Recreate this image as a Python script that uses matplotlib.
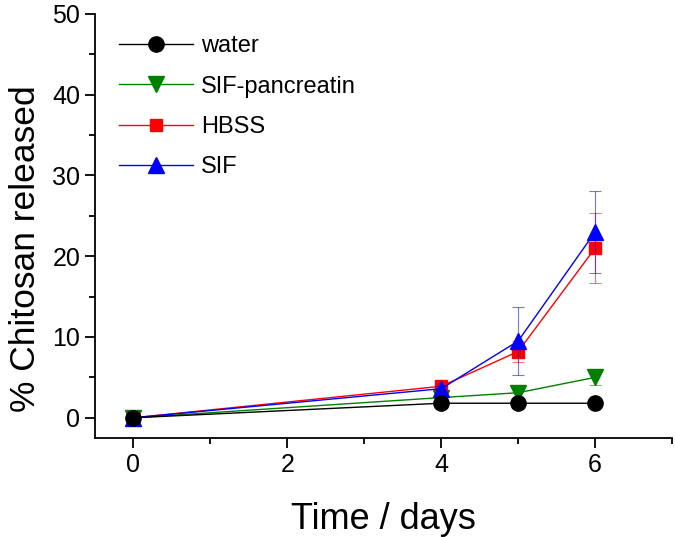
import matplotlib
matplotlib.use("Agg")
import matplotlib.pyplot as plt
from matplotlib.ticker import MultipleLocator
from matplotlib.lines import Line2D

plt.rcParams['font.family'] = ['Liberation Sans', 'DejaVu Sans']

days = [0, 4, 5, 6]
water = [0, 1.8, 1.8, 1.8]
water_err = [0, 0.1, 0.1, 0.1]
sif_panc = [0, 2.5, 3.1, 5.0]
sif_panc_err = [0, 0.3, 0.6, 0.9]
hbss = [0, 3.9, 8.2, 21.0]
hbss_err = [0, 0.3, 1.3, 4.3]
sif = [0, 3.6, 9.5, 23.0]
sif_err = [0, 0.3, 4.2, 5.1]

labels = ["water", "SIF-pancreatin", "HBSS", "SIF"]

fig = plt.figure(figsize=(6.75, 5.37), dpi=100)
ax = fig.add_axes([0.1407, 0.1844, 0.855, 0.79])

series = [
    (water, water_err, 'black', 'o', 11, labels[0], 6),
    (sif_panc, sif_panc_err, 'green', 'v', 11, labels[1], 3),
    (hbss, hbss_err, 'red', 's', 9, labels[2], 4),
    (sif, sif_err, 'blue', '^', 11, labels[3], 5),
]
handles = []
for vals, err, col, mk, ms, lab, z in series:
    c = ax.errorbar(days, vals, yerr=err, color=col, marker=mk, markersize=ms,
                    linewidth=1.0, elinewidth=0.8, capsize=4, capthick=0.8,
                    ecolor=col, zorder=z)
    for bar in c[2]:
        bar.set_alpha(0.55)
    for cap in c[1]:
        cap.set_alpha(0.55)
    handles.append(Line2D([], [], color=col, marker=mk, markersize=ms,
                          linewidth=1.0, label=lab))

ax.set_xlim(-0.5, 7)
ax.set_ylim(-2.5, 50)
ax.xaxis.set_major_locator(MultipleLocator(2))
ax.xaxis.set_minor_locator(MultipleLocator(1))
ax.yaxis.set_major_locator(MultipleLocator(10))
ax.yaxis.set_minor_locator(MultipleLocator(5))
ax.spines['top'].set_visible(False)
ax.spines['right'].set_visible(False)
for s in ['left', 'bottom']:
    ax.spines[s].set_linewidth(1.3)
ax.tick_params(which='major', direction='out', length=7, width=1.3, labelsize=18)
ax.tick_params(which='minor', direction='out', length=4, width=1.3)

ax.set_xlabel("Time / days", fontsize=26, labelpad=18)
ax.set_ylabel("% Chitosan released", fontsize=25.5)
ax.yaxis.set_label_coords(-0.092, 0.446)

leg = ax.legend(handles=handles, loc='upper left', bbox_to_anchor=(0.005, 0.999),
                frameon=False, fontsize=17, handlelength=3.13, handletextpad=0.35,
                labelspacing=0.77)

fig.savefig("out.png", dpi=100)
